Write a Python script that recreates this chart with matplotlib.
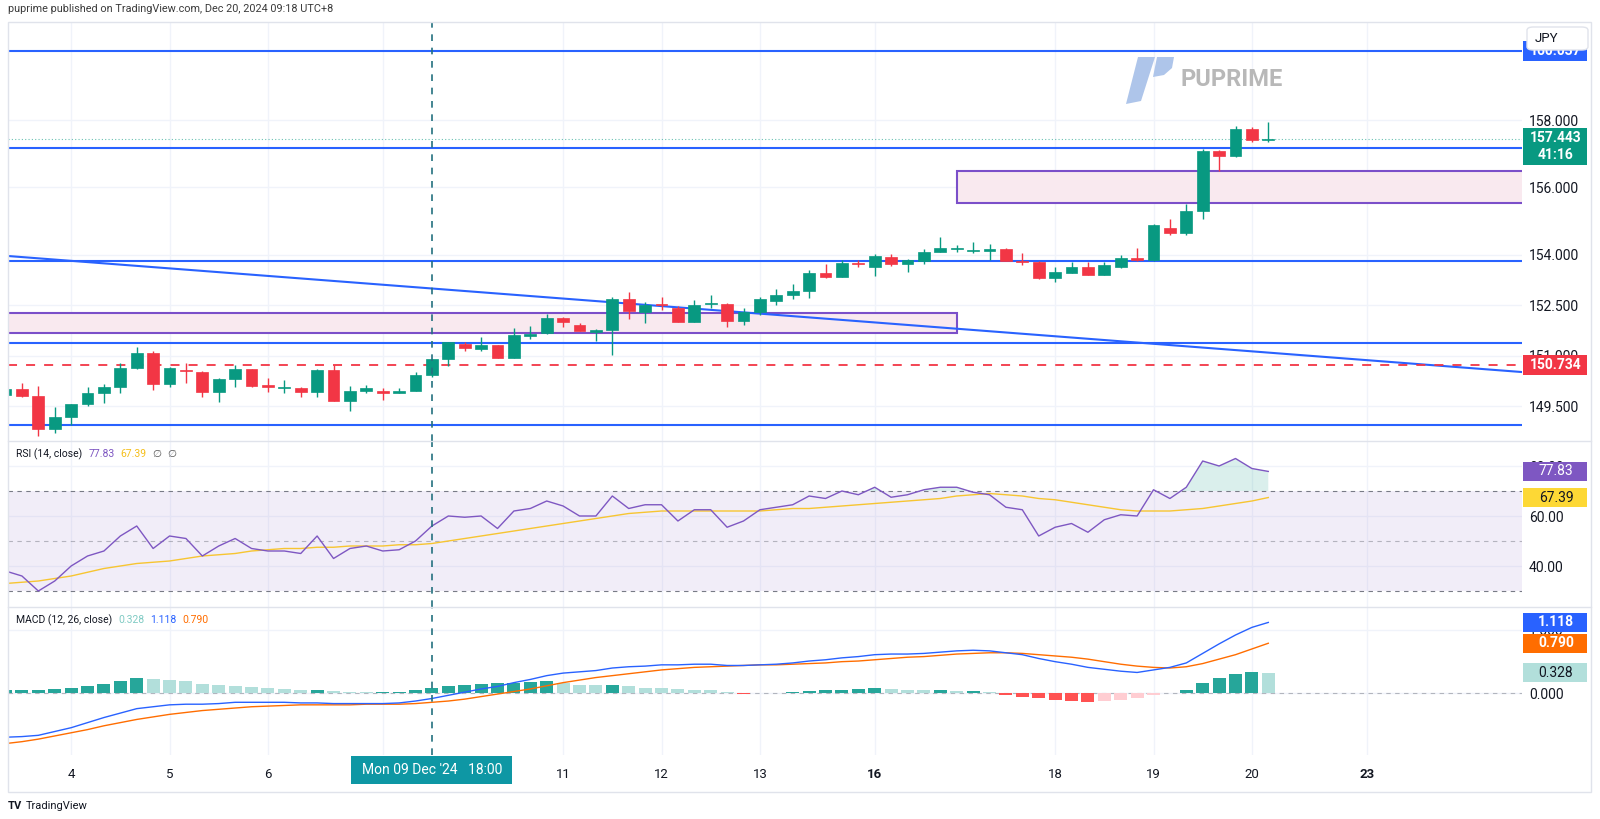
import numpy as np
import matplotlib.pyplot as plt
from matplotlib.patches import Rectangle, FancyBboxPatch, Polygon
from matplotlib.lines import Line2D
from matplotlib.ticker import FormatStrFormatter
from matplotlib.transforms import blended_transform_factory

plt.rcParams['font.family'] = ['Roboto', 'DejaVu Sans']

# ---- USDJPY 4H candles (Dec 3 - Dec 20, 2024) ----
opens = [149.84, 150.01, 149.81, 148.84, 149.18, 149.57, 149.91, 150.09, 150.63, 151.10,
         150.17, 150.57, 150.52, 149.92, 150.31, 150.60, 150.15, 150.04, 150.05, 149.93,
         150.58, 149.66, 149.96, 149.96, 149.91, 149.96, 150.43, 150.90, 151.36, 151.20,
         151.32, 150.93, 151.60, 151.69, 152.13, 151.93, 151.71, 151.77, 152.69, 152.31,
         152.54, 152.43, 152.00, 152.53, 152.54, 152.05, 152.29, 152.64, 152.81, 152.94,
         153.45, 153.35, 153.77, 153.65, 153.93, 153.72, 153.82, 154.07, 154.18, 154.12,
         154.12, 154.17, 153.82, 153.78, 153.32, 153.45, 153.63, 153.40, 153.65, 153.90,
         153.86, 154.81, 154.65, 155.30, 157.08, 156.93, 157.72, 157.40]
highs = [150.05, 150.21, 150.11, 149.49, 149.57, 150.07, 150.17, 150.78, 151.25, 151.15,
         150.68, 150.78, 150.55, 150.33, 150.73, 150.62, 150.33, 150.29, 150.09, 150.62,
         150.73, 150.11, 150.14, 150.04, 150.04, 150.53, 150.92, 151.40, 151.40, 151.57,
         151.32, 151.84, 151.89, 152.23, 152.16, 151.99, 151.79, 152.76, 152.91, 152.59,
         152.76, 152.49, 152.66, 152.81, 152.58, 152.41, 152.74, 152.99, 153.12, 153.55,
         153.72, 153.85, 153.85, 154.01, 154.02, 153.88, 154.16, 154.52, 154.29, 154.39,
         154.32, 154.21, 154.04, 153.82, 153.63, 153.80, 153.78, 153.80, 154.00, 154.20,
         154.90, 155.06, 155.51, 157.15, 157.12, 157.81, 157.78, 157.93]
lows = [149.80, 149.77, 148.62, 148.70, 148.95, 149.51, 149.61, 149.89, 150.62, 149.99,
        150.07, 150.21, 149.79, 149.64, 150.07, 150.09, 149.94, 149.89, 149.77, 149.77,
        149.66, 149.37, 149.89, 149.69, 149.89, 149.96, 150.36, 150.71, 151.16, 151.15,
        150.93, 150.93, 151.50, 151.64, 151.87, 151.75, 151.45, 151.03, 152.10, 151.97,
        152.36, 152.00, 152.00, 152.41, 151.85, 151.92, 152.20, 152.51, 152.69, 152.73,
        153.32, 153.35, 153.65, 153.37, 153.67, 153.50, 153.72, 154.07, 154.07, 154.04,
        153.85, 153.82, 153.70, 153.28, 153.20, 153.45, 153.40, 153.40, 153.60, 153.82,
        153.82, 154.58, 154.60, 155.05, 156.49, 156.90, 157.36, 157.35]
closes = [150.02, 149.81, 148.82, 149.18, 149.57, 149.91, 150.09, 150.63, 151.10, 150.17,
          150.63, 150.55, 149.92, 150.31, 150.60, 150.12, 150.09, 150.07, 149.93, 150.58,
          149.66, 149.96, 150.04, 149.91, 149.96, 150.43, 150.90, 151.40, 151.22, 151.32,
          150.93, 151.62, 151.65, 152.13, 152.00, 151.75, 151.77, 152.69, 152.34, 152.51,
          152.51, 152.00, 152.51, 152.56, 152.05, 152.31, 152.69, 152.81, 152.94, 153.47,
          153.35, 153.75, 153.74, 153.95, 153.72, 153.85, 154.07, 154.19, 154.21, 154.15,
          154.17, 153.82, 153.80, 153.32, 153.50, 153.63, 153.40, 153.70, 153.90, 153.86,
          154.87, 154.65, 155.30, 157.08, 156.93, 157.72, 157.40, 157.443]

# ---- RSI (14, close) and its MA ----
rsi = [38, 36, 30, 34, 40, 44, 46, 52, 56, 47,
       52, 51, 44, 48, 51, 47, 46, 46, 45, 52,
       43, 47, 48, 46, 46.5, 50, 56, 60, 59.5, 60,
       55, 62, 63, 66, 64, 60, 60, 68, 63, 64.5,
       64.5, 58, 62.5, 62.5, 55.5, 58, 62.5, 63.5, 64.5, 68,
       67, 70, 68.5, 71.5, 67.5, 68.5, 70.5, 71.5, 71.5, 69.5,
       68.5, 63.5, 62.5, 52, 55.5, 57, 53.5, 58.5, 60.5, 60,
       70.5, 67, 71.5, 82, 80, 83, 79, 77.83]
rsi_ma = [33, 33.5, 34, 35, 36, 37.5, 39, 40, 41, 41.5,
          42, 43, 44, 44.5, 45, 46, 46.5, 47, 47, 47.5,
          47.5, 48, 48, 48, 48.5, 48.5, 49, 50, 51, 52,
          53, 54, 55, 56, 57, 58, 59, 60, 61, 61.5,
          62, 62, 62, 62, 62, 62, 62, 62.5, 63, 63,
          63.5, 64, 64.5, 65, 65.5, 66, 66.5, 67, 68, 68.5,
          69, 68.5, 68, 67, 66.5, 65.5, 64.5, 63.5, 62.5, 62,
          62, 62, 62.5, 63, 64, 65, 66, 67.39]

# ---- MACD (12, 26, close) ----
macd = [-0.69, -0.68, -0.66, -0.60, -0.54, -0.46, -0.38, -0.31, -0.24, -0.21,
        -0.18, -0.17, -0.17, -0.16, -0.14, -0.14, -0.14, -0.14, -0.15, -0.15,
        -0.16, -0.16, -0.16, -0.16, -0.15, -0.12, -0.08, -0.03, 0.02, 0.07,
        0.11, 0.17, 0.22, 0.28, 0.32, 0.34, 0.36, 0.40, 0.42, 0.43,
        0.45, 0.45, 0.46, 0.46, 0.44, 0.44, 0.45, 0.46, 0.48, 0.51,
        0.53, 0.56, 0.58, 0.61, 0.62, 0.62, 0.63, 0.65, 0.67, 0.68,
        0.67, 0.64, 0.61, 0.55, 0.50, 0.46, 0.41, 0.38, 0.35, 0.33,
        0.37, 0.41, 0.48, 0.63, 0.78, 0.92, 1.04, 1.118]
macd_signal = [-0.79, -0.76, -0.72, -0.67, -0.62, -0.57, -0.51, -0.46, -0.41, -0.37,
               -0.33, -0.30, -0.27, -0.25, -0.23, -0.21, -0.20, -0.19, -0.18, -0.18,
               -0.18, -0.18, -0.17, -0.17, -0.17, -0.16, -0.14, -0.12, -0.09, -0.05,
               -0.01, 0.03, 0.07, 0.12, 0.17, 0.21, 0.25, 0.28, 0.31, 0.34,
               0.37, 0.39, 0.41, 0.42, 0.43, 0.44, 0.45, 0.45, 0.46, 0.47,
               0.48, 0.50, 0.51, 0.53, 0.55, 0.57, 0.58, 0.60, 0.62, 0.63,
               0.64, 0.64, 0.63, 0.61, 0.59, 0.57, 0.54, 0.50, 0.46, 0.43,
               0.41, 0.40, 0.42, 0.47, 0.54, 0.61, 0.70, 0.790]
macd_hist = [0.05, 0.06, 0.06, 0.07, 0.08, 0.11, 0.15, 0.20, 0.25, 0.22,
             0.21, 0.19, 0.15, 0.13, 0.11, 0.10, 0.08, 0.07, 0.06, 0.06,
             0.04, 0.03, 0.02, 0.02, 0.03, 0.05, 0.08, 0.11, 0.13, 0.15,
             0.16, 0.17, 0.18, 0.19, 0.17, 0.14, 0.13, 0.13, 0.11, 0.09,
             0.08, 0.07, 0.06, 0.05, 0.02, -0.01, 0.01, 0.01, 0.02, 0.04,
             0.05, 0.06, 0.07, 0.08, 0.07, 0.06, 0.05, 0.05, 0.04, 0.04,
             0.03, -0.02, -0.05, -0.08, -0.10, -0.12, -0.13, -0.12, -0.10, -0.07,
             -0.03, 0.01, 0.06, 0.16, 0.24, 0.31, 0.34, 0.328]

# ---- axis labels / drawings ----
day_ticks = [4, 10, 16, 23, 34, 40, 46, 53, 64, 70, 76, 83]
day_labels = ['4', '5', '6', '', '11', '12', '13', '16', '18', '19', '20', '23']
bold_days = ['16', '23']
price_ticks = [149.5, 151.0, 152.5, 154.0, 156.0, 158.0]
rsi_ticks = [40, 60, 80]
macd_ticks = [0.0, 1.0]
hlines = [160.037, 157.17, 153.82, 151.38, 148.95]
zone_upper = (155.54, 156.49)
zone_lower = (151.68, 152.27)
zone_split = 58
trend_x = [0, 92.5]
trend_y = [153.97, 150.52]
dashed_level = 150.734
last_price = 157.443
countdown = '41:16'
crosshair_bar = 26
crosshair_label = "Mon 09 Dec '24   18:00"

UP, DOWN = '#089981', '#f23645'
BLUE = '#2962ff'
GRID = '#f0f3fa'
TXT = '#131722'

W, H = 1600, 819
AX_W = 1514
fig = plt.figure(figsize=(16, 8.19), dpi=100)
fig.patch.set_facecolor('white')


def ax_at(left, top, right, bottom):
    return fig.add_axes([left / W, 1 - bottom / H, (right - left) / W, (bottom - top) / H])


ax = ax_at(8, 22, 1522, 441)
ax_rsi = ax_at(8, 441, 1522, 607)
ax_macd = ax_at(8, 607, 1522, 755)
pane_h = {ax: 419, ax_rsi: 166, ax_macd: 148}

x = np.arange(len(closes))
xlim = (0.15, 92.47)

for a in (ax, ax_rsi, ax_macd):
    a.set_xlim(*xlim)
    for s in a.spines.values():
        s.set_visible(False)
    a.set_xticks(day_ticks)
    a.yaxis.tick_right()
    a.tick_params(axis='y', length=0, pad=5, labelsize=10, labelcolor=TXT)
    a.tick_params(axis='x', length=0, labelbottom=False)
    a.grid(True, color=GRID, lw=1, zorder=0)
    a.set_axisbelow(True)
    a.axvline(crosshair_bar, color='#24717f', lw=1.2, ls=(0, (4, 4)), zorder=8)

# ---- main price pane ----
ax.set_ylim(148.475, 160.908)
ax.set_yticks(price_ticks)
ax.yaxis.set_major_formatter(FormatStrFormatter('%.3f'))

ax.add_patch(Rectangle((zone_split, zone_upper[0]), 60, zone_upper[1] - zone_upper[0],
                       fc='#f9e9ef', ec='#7b4fc9', lw=1.5, zorder=1))
ax.add_patch(Rectangle((-10, zone_lower[0]), zone_split + 10, zone_lower[1] - zone_lower[0],
                       fc='#f9e9ef', ec='#7b4fc9', lw=1.5, zorder=1))
for lvl in hlines:
    ax.axhline(lvl, color=BLUE, lw=1.5, zorder=2)
ax.plot(trend_x, trend_y, color=BLUE, lw=1.5, zorder=2)
ax.axhline(dashed_level, color=DOWN, lw=1.3, ls=(0, (5, 5)), zorder=2)
ax.axhline(last_price, color=UP, lw=0.8, ls=(0, (1, 2)), alpha=0.6, zorder=2)

o = np.array(opens)
c = np.array(closes)
cols = np.where(c >= o, UP, DOWN)
ax.vlines(x, lows, highs, colors=cols, lw=1, zorder=3)
ax.bar(x, np.maximum(np.abs(c - o), 0.03), 0.72, bottom=np.minimum(o, c),
       color=cols, edgecolor=cols, lw=0.5, zorder=4)


def price_label(a, y, text, fc, tc='white', h_px=20, dy_px=0, weight='bold'):
    lo, hi = a.get_ylim()
    per_px = (hi - lo) / pane_h[a]
    yc = y - dy_px * per_px
    h = h_px * per_px
    tr = blended_transform_factory(a.transAxes, a.transData)
    a.add_patch(Rectangle((1 + 1.5 / AX_W, yc - h / 2), 64 / AX_W, h, transform=tr,
                          fc=fc, ec='none', clip_on=False, zorder=10))
    a.text(1 + 34 / AX_W, yc, text, transform=tr, ha='center', va='center', fontsize=10,
           color=tc, weight=weight, linespacing=1.25, clip_on=False, zorder=11)


price_label(ax, hlines[0], '160.037', BLUE)
price_label(ax, last_price, '157.443\n' + countdown, UP, h_px=37, dy_px=7.7)
price_label(ax, dashed_level, '150.734', DOWN)

# ---- RSI pane ----
rsi_a = np.array(rsi)
ax_rsi.set_ylim(23.6, 90)
ax_rsi.set_yticks(rsi_ticks)
ax_rsi.yaxis.set_major_formatter(FormatStrFormatter('%.2f'))
ax_rsi.axhspan(30, 70, color='#7e57c2', alpha=0.1, lw=0, zorder=1)
for lvl, al in ((70, 1), (50, 0.5), (30, 1)):
    ax_rsi.axhline(lvl, color='#787b86', lw=0.8, ls=(0, (4, 4)), alpha=al, zorder=2)
ax_rsi.fill_between(x, rsi_a, 70, where=rsi_a > 70, interpolate=True,
                    color=UP, alpha=0.15, lw=0, zorder=2)
ax_rsi.plot(x, rsi_ma, color='#f7c531', lw=1, zorder=3)
ax_rsi.plot(x, rsi, color='#7e57c2', lw=1, zorder=4)
price_label(ax_rsi, 77.83, '77.83', '#7e57c2', h_px=19, weight='normal')
price_label(ax_rsi, 67.39, '67.39', '#fdd835', tc=TXT, h_px=19, weight='normal')

# ---- MACD pane ----
ax_macd.set_ylim(-0.97, 1.361)
ax_macd.set_yticks(macd_ticks)
ax_macd.yaxis.set_major_formatter(FormatStrFormatter('%.3f'))
hc = []
for k, h in enumerate(macd_hist):
    prev = macd_hist[k - 1] if k else h
    if h >= 0:
        hc.append('#26a69a' if h >= prev else '#b2dfdb')
    else:
        hc.append('#ff5252' if h <= prev else '#ffcdd2')
ax_macd.axhline(0, color='#b2b5be', lw=0.8, ls=(0, (4, 4)), zorder=1)
ax_macd.bar(x, macd_hist, 0.8, color=hc, zorder=2)
ax_macd.plot(x, macd_signal, color='#ff6d00', lw=1, zorder=3)
ax_macd.plot(x, macd, color=BLUE, lw=1, zorder=4)
price_label(ax_macd, 1.118, '1.118', BLUE, h_px=19)
price_label(ax_macd, 0.790, '0.790', '#ff6d00', h_px=19)
price_label(ax_macd, 0.328, '0.328', '#b2dfdb', tc=TXT, h_px=19, weight='normal')

ax_macd.set_xticks(day_ticks)
ax_macd.set_xticklabels(day_labels)
ax_macd.tick_params(axis='x', labelbottom=True, pad=9, labelsize=9.5, labelcolor=TXT)
for lbl in ax_macd.get_xticklabels():
    if lbl.get_text() in bold_days:
        lbl.set_fontweight('bold')

trx = blended_transform_factory(ax_macd.transData, ax_macd.transAxes)
ax_macd.add_patch(Rectangle((crosshair_bar - 80.5 / 16.4, -29 / 148), 161 / 16.4, 28 / 148,
                            transform=trx, fc='#0e97a4', ec='none', clip_on=False, zorder=10))
ax_macd.text(crosshair_bar, -15 / 148, crosshair_label, transform=trx, ha='center', va='center',
             fontsize=10, color='white', clip_on=False, zorder=11)

# ---- frame, separators, header, watermark ----
fig.add_artist(Rectangle((8 / W, 1 - 792 / H), 1583 / W, 770 / H, transform=fig.transFigure,
                         fill=False, ec='#e0e3eb', lw=1, zorder=5))
for yy in (441, 607):
    fig.add_artist(Line2D([8 / W, 1591 / W], [1 - yy / H] * 2, color='#e0e3eb', lw=1, zorder=5))

fig.add_artist(FancyBboxPatch((1527 / W, 1 - 50 / H), 61 / W, 23 / H, transform=fig.transFigure,
                              boxstyle='round,pad=0,rounding_size=0.004', fc='white',
                              ec='#e0e3eb', lw=1, zorder=20))
fig.text(1535 / W, 1 - 38.5 / H, 'JPY', fontsize=9.5, color=TXT, va='center', zorder=21)

fig.text(8 / W, 1 - 9 / H, 'puprime published on TradingView.com, Dec 20, 2024 09:18 UTC+8',
         fontsize=7.8, color='#3b3b3b', va='center')
fig.text(8 / W, 1 - 806 / H, 'TV', fontsize=8, weight='bold', color=TXT, va='center')
fig.text(26 / W, 1 - 806 / H, 'TradingView', fontsize=8, color=TXT, va='center')

logo_c = '#aec5ea'
fig.add_artist(Polygon([(1126 / W, 1 - 104 / H), (1141 / W, 1 - 101 / H), (1155 / W, 1 - 57 / H),
                        (1138 / W, 1 - 57 / H)], closed=True, transform=fig.transFigure,
                       fc=logo_c, ec='none', zorder=6))
fig.add_artist(Polygon([(1157 / W, 1 - 57 / H), (1174 / W, 1 - 57 / H), (1172 / W, 1 - 68 / H),
                        (1164 / W, 1 - 75 / H), (1153 / W, 1 - 77 / H)], closed=True,
                       transform=fig.transFigure, fc=logo_c, ec='none', zorder=6))
fig.text(1180 / W, 1 - 80 / H, 'PUPRIME', fontsize=17, weight='bold', color='#b8b8b8',
         va='center', zorder=6)

# ---- indicator legends ----
renderer = fig.canvas.get_renderer()


def chain(xp, yp, parts, size=7.5, gap=6):
    for s, col in parts:
        t = fig.text(xp / W, 1 - yp / H, s, color=col, fontsize=size, va='center', ha='left')
        xp += t.get_window_extent(renderer).width + gap


chain(16, 454, [('RSI (14, close)', TXT), ('77.83', '#7e57c2'), ('67.39', '#f5bf1b'),
                ('\u2205', '#555555'), ('\u2205', '#555555')])
chain(16, 620, [('MACD (12, 26, close)', TXT), ('0.328', '#80cbc4'), ('1.118', BLUE),
                ('0.790', '#ff6d00')])

fig.savefig('out.png', dpi=100, facecolor='white')
